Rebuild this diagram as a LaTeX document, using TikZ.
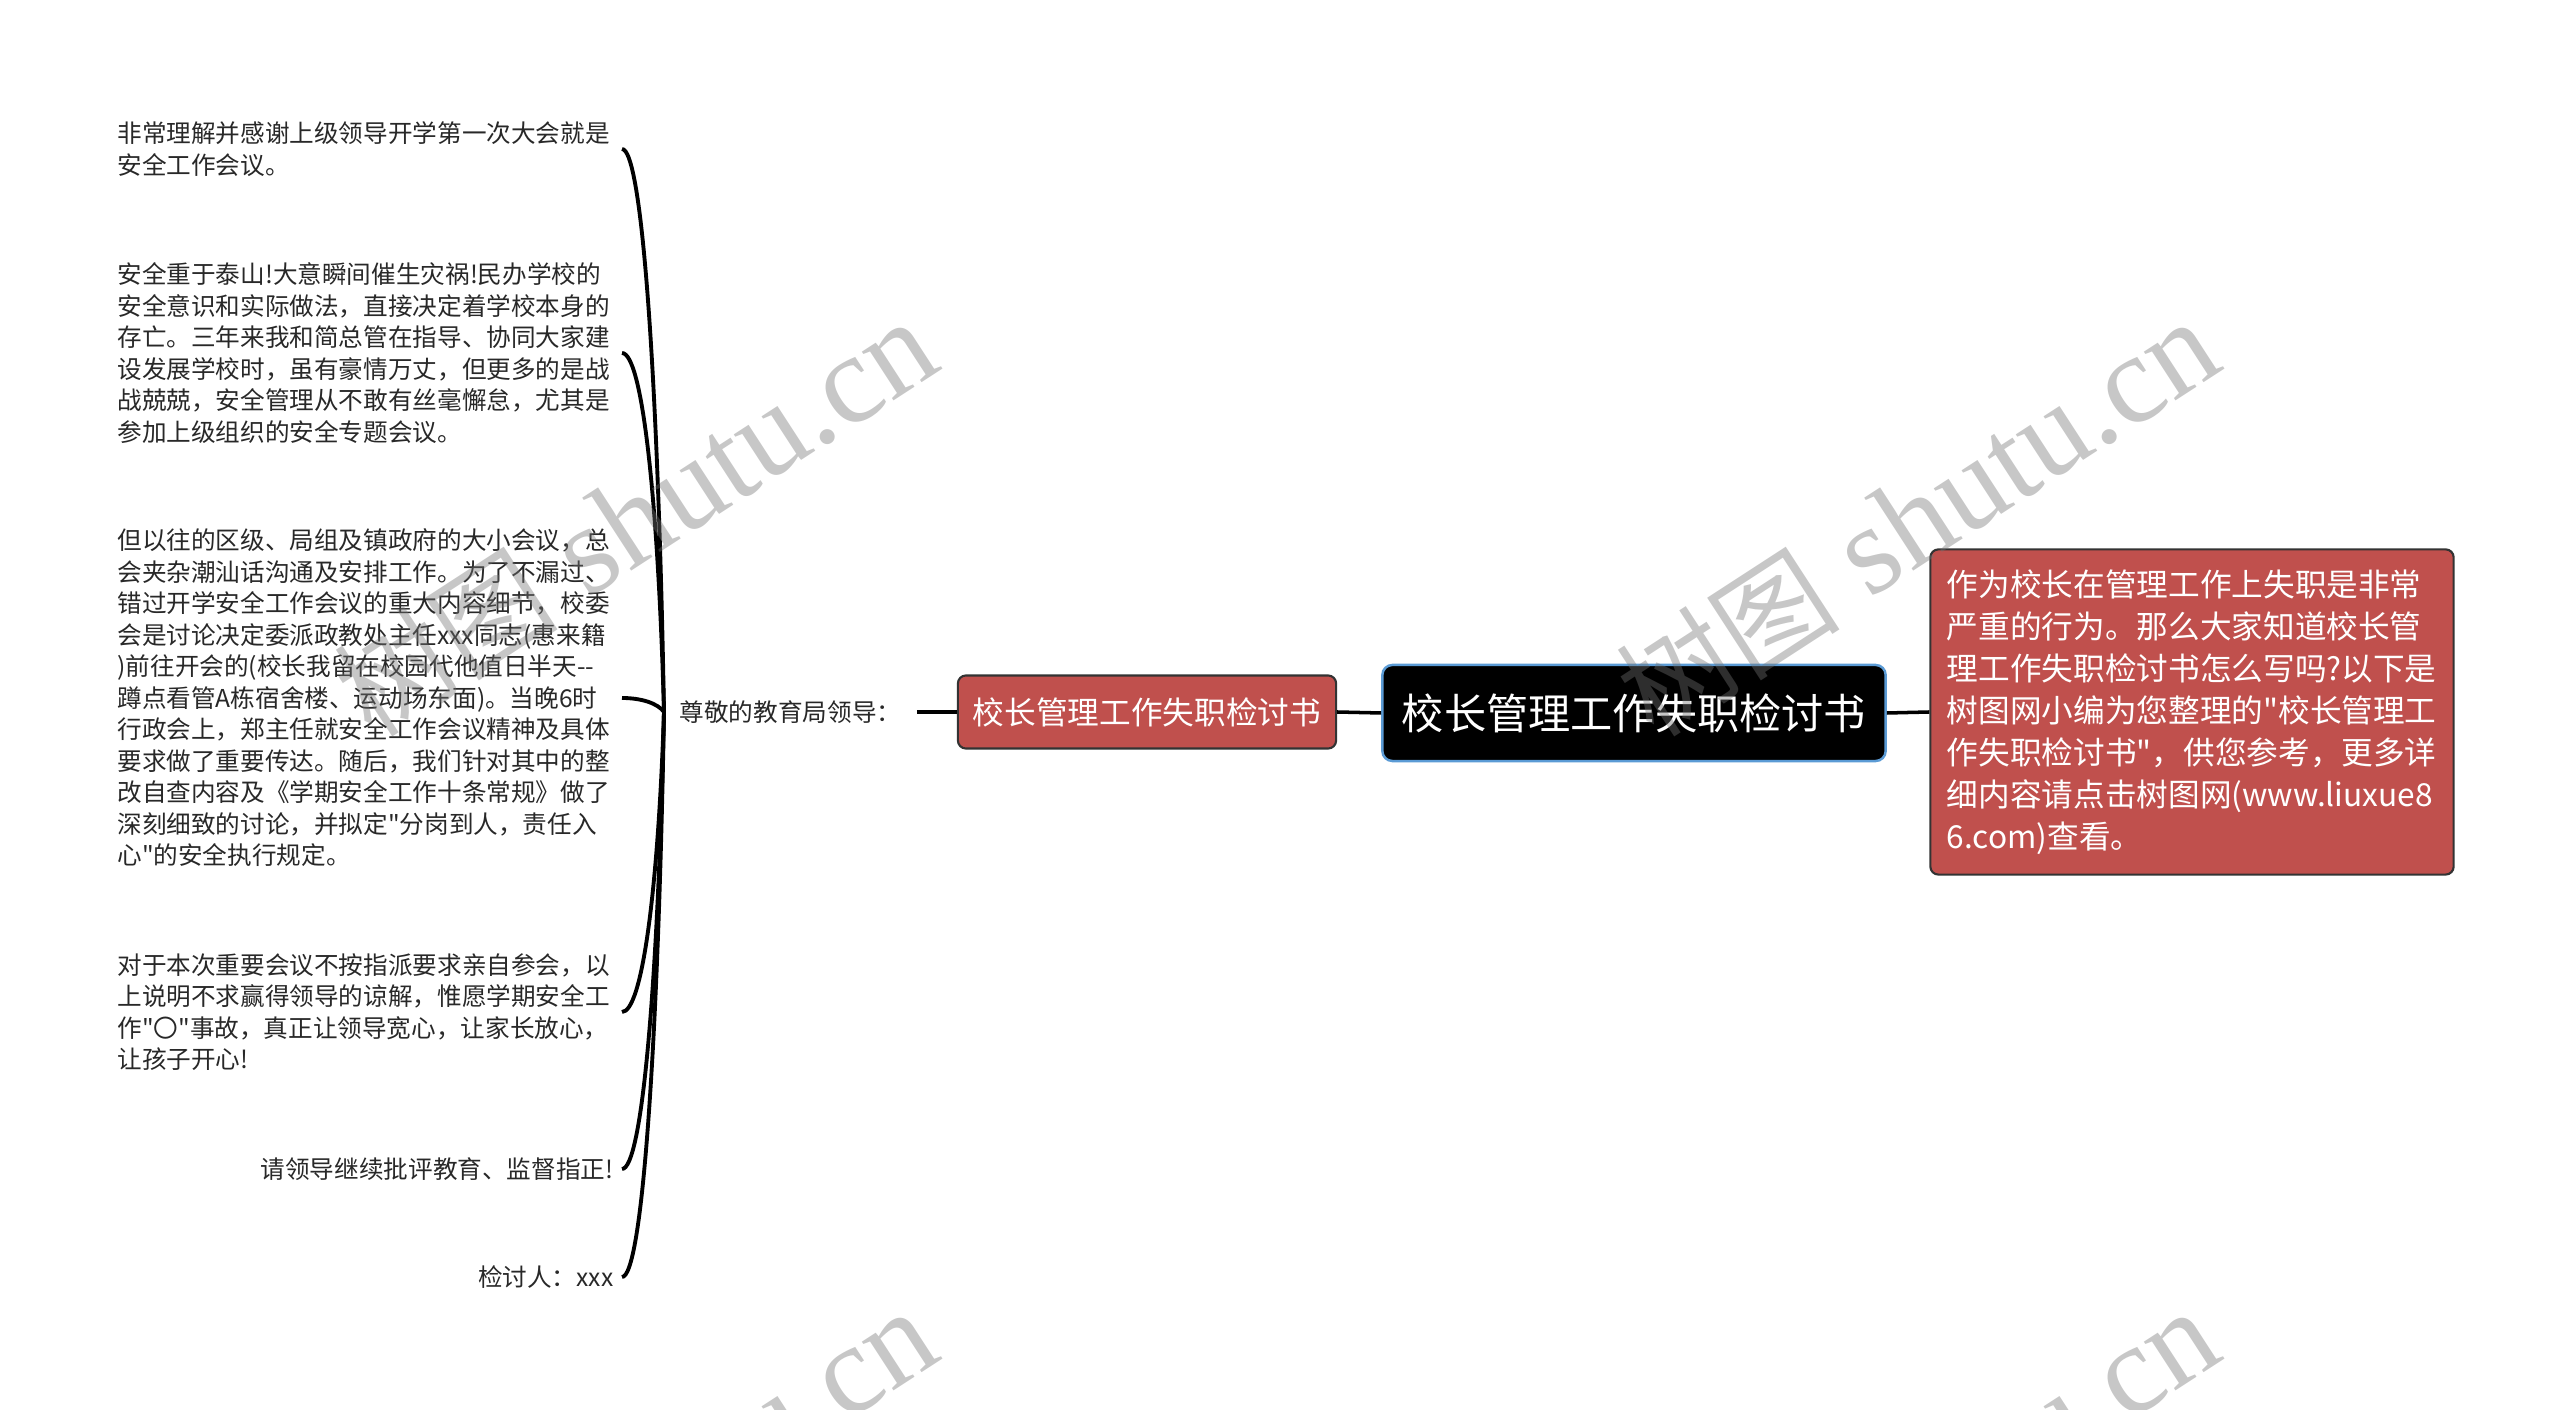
\documentclass[tikz,border=0pt]{standalone}
\usepackage{fontspec}
\newfontfamily\cjk{Noto Sans CJK SC}
\newfontfamily\wmserif{Liberation Serif}
\definecolor{topicred}{RGB}{192,80,77}
\definecolor{rootblue}{RGB}{91,155,213}
\definecolor{leafgray}{RGB}{40,40,40}

\begin{document}
\begin{tikzpicture}[x=0.01cm, y=-0.01cm,
	root/.style={fill=black, draw=rootblue, line width=0.7pt, rounded corners=0.1cm, text=white, font={\cjk\fontsize{12}{14}\selectfont}, minimum width=5.03cm, minimum height=0.96cm},
	sub/.style={fill=topicred, draw=black!80, line width=0.6pt, rounded corners=0.08cm, text=white, font={\cjk\fontsize{9}{11}\selectfont}, minimum width=3.78cm, minimum height=0.73cm},
	note/.style={sub, font={\cjk\fontsize{9}{11.95}\selectfont}, text width=4.9cm, align=left, minimum width=5.23cm, minimum height=3.25cm},
	greet/.style={font={\cjk\fontsize{7}{8.96}\selectfont}, text=leafgray, inner xsep=0.15cm, anchor=west},
	leaf/.style={font={\cjk\fontsize{7}{8.96}\selectfont}, text=leafgray, text width=141pt, inner xsep=0.08cm, anchor=east, align=left},
	link/.style={line width=1pt},
	branch/.style={line width=1.1pt},
	wm/.style={rotate=33, anchor=base west, inner sep=0pt, font={\wmserif\fontsize{36}{36}\selectfont}, text=black!55, text opacity=0.4}]
	\useasboundingbox (0,0) rectangle (2560,1410);

	\node[root] (root) at (1634,713) {校长管理工作失职检讨书};
	\node[sub] (sub) at (1147,712) {校长管理工作失职检讨书};
	\node[note] (note) at (2192,712) {作为校长在管理工作上失职是非常\\
		严重的行为。那么大家知道校长管\\
		理工作失职检讨书怎么写吗?以下是\\
		树图网小编为您整理的"校长管理工\\
		作失职检讨书"，供您参考，更多详\\
		细内容请点击树图网(www.liuxue8\\
		6.com)查看。};
	\node[greet] (greet) at (664,712) {尊敬的教育局领导：};

	\draw[link] (greet.east) -- (sub.west);
	\draw[link] (sub.east) -- (root.west);
	\draw[link] (root.east) -- (note.west);

	% leaves
	\node[leaf] (leaf1) at (622,149) {非常理解并感谢上级领导开学第一次大会就是\\
		安全工作会议。};
	\node[leaf] (leaf2) at (622,353) {安全重于泰山!大意瞬间催生灾祸!民办学校的\\
		安全意识和实际做法，直接决定着学校本身的\\
		存亡。三年来我和简总管在指导、协同大家建\\
		设发展学校时，虽有豪情万丈，但更多的是战\\
		战兢兢，安全管理从不敢有丝毫懈怠，尤其是\\
		参加上级组织的安全专题会议。};
	\node[leaf] (leaf3) at (622,698) {但以往的区级、局组及镇政府的大小会议，总\\
		会夹杂潮汕话沟通及安排工作。为了不漏过、\\
		错过开学安全工作会议的重大内容细节，校委\\
		会是讨论决定委派政教处主任xxx同志(惠来籍\\
		)前往开会的(校长我留在校园代他值日半天--\\
		蹲点看管A栋宿舍楼、运动场东面)。当晚6时\\
		行政会上，郑主任就安全工作会议精神及具体\\
		要求做了重要传达。随后，我们针对其中的整\\
		改自查内容及《学期安全工作十条常规》做了\\
		深刻细致的讨论，并拟定"分岗到人，责任入\\
		心"的安全执行规定。};
	\node[leaf] (leaf4) at (622,1012) {对于本次重要会议不按指派要求亲自参会，以\\
		上说明不求赢得领导的谅解，惟愿学期安全工\\
		作"〇"事故，真正让领导宽心，让家长放心，\\
		让孩子开心!};
	\node[leaf, align=right] (leaf5) at (622,1169) {请领导继续批评教育、监督指正!};
	\node[leaf, align=right] (leaf6) at (622,1277) {检讨人：xxx};

	\foreach \n/\yy in {1/149, 2/353, 3/698, 4/1012, 5/1169, 6/1277} {
		\pgfmathsetmacro\dy{(\yy-712)*0.6}
		\draw[branch] (leaf\n.east) .. controls +(20,0) and +(-6,\dy) .. (greet.west);
	}

	% watermark
	\begin{scope}
		\clip (0,0) rectangle (2560,1410);
		\foreach \wx/\wy [count=\i] in {372/740, 1654/740, 372/1730, 1654/1730}
			\node[wm] (wm\i) at (\wx,\wy) {{\cjk\fontsize{32}{32}\selectfont 树图} shutu.cn};
	\end{scope}
\end{tikzpicture}
\end{document}
